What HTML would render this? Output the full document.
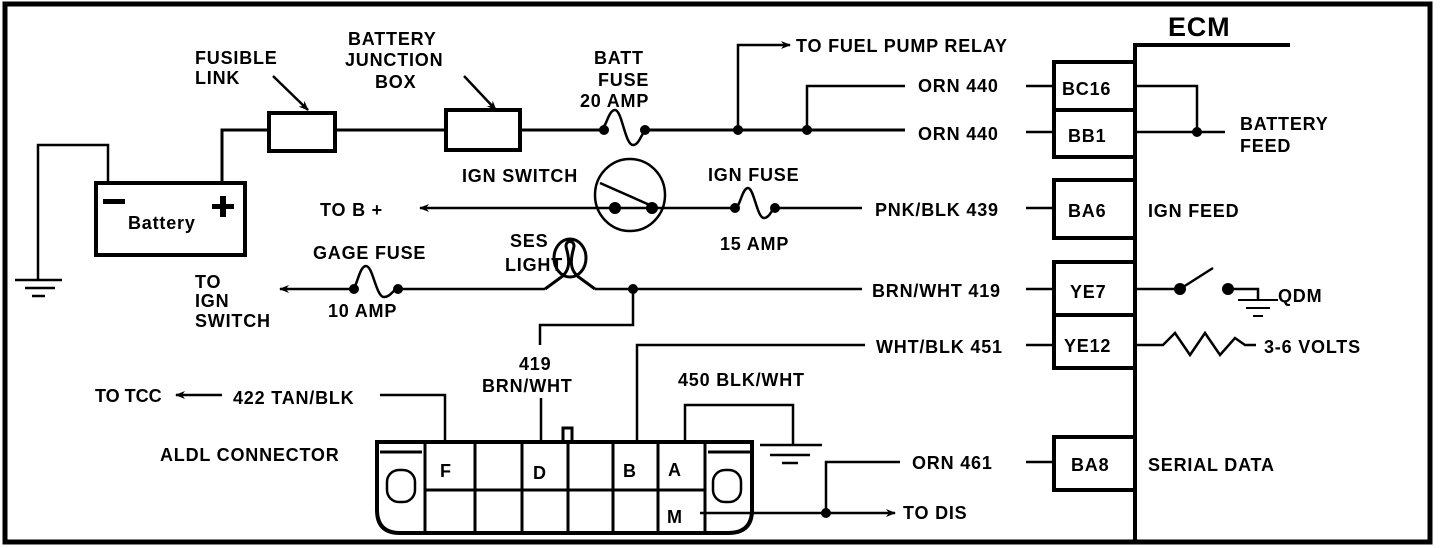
<!DOCTYPE html>
<html><head><meta charset="utf-8"><style>
html,body{margin:0;padding:0;background:#fff;}
svg{display:block;}
text{font-family:"Liberation Sans",sans-serif;font-weight:bold;font-size:18px;letter-spacing:0.8px;fill:#000;}
</style></head><body>
<svg width="1456" height="548" viewBox="0 0 1456 548" xmlns="http://www.w3.org/2000/svg">
<defs><marker id="ar" markerWidth="10" markerHeight="8" refX="9" refY="4" orient="auto" markerUnits="userSpaceOnUse"><path d="M0,0 L10,4 L0,8 L3,4 Z" fill="#000"/></marker></defs>
<g fill="none" stroke="#000" stroke-width="2.5">
<rect x="5" y="4" width="1425" height="538" stroke-width="5"/>
<path d="M1135,542 V45 H1290" stroke-width="4"/>
<g stroke-width="4">
<path d="M1134,62 H1054 V157 H1134 M1054,110 H1134"/>
<path d="M1134,180 H1054 V238 H1134"/>
<path d="M1134,262 H1054 V368 H1134 M1054,315 H1134"/>
<path d="M1134,437 H1054 V490 H1134"/>
</g>
<path d="M1026,86 H1054 M1026,132 H1054 M1026,208 H1054 M1026,289 H1054 M1026,345 H1054 M1026,462 H1054"/>
<path d="M1135,86 H1197 V132 M1135,132 H1225"/>
<path d="M222,183 V130 H268 M335,130 H445 M520,130 H600 M647,130 H905" stroke-width="3"/>
<path d="M600,130 C606,130 608,110 615,110 C622,110 625,145 633,145 C640,145 642,130 647,130"/>
<path d="M738,130 V45 H790" marker-end="url(#ar)"/>
<path d="M807,130 V86 H905"/>
<rect x="269" y="113" width="66" height="38" stroke-width="4"/>
<rect x="446" y="110" width="74" height="40" stroke-width="4"/>
<path d="M273,76 L308,110" marker-end="url(#ar)"/>
<path d="M464,76 L496,110" marker-end="url(#ar)"/>
<rect x="96" y="183" width="149" height="72" stroke-width="4"/>
<path d="M108,183 V145 H38 V280"/>
<path d="M15,280 H62 M25,288 H55 M32,296 H45"/>
<path d="M655,208 H735 M775,208 H862" />
<path d="M655,208 H420" marker-end="url(#ar)"/>
<ellipse cx="630" cy="195" rx="35" ry="36"/>
<path d="M600,183 L652,206"/>
<path d="M735,208 C740,208 742,188 748,188 C754,188 757,218 764,218 C770,218 772,208 775,208"/>
<path d="M398,289 H545 M595,289 H862"/>
<path d="M352,289 H280" marker-end="url(#ar)"/>
<path d="M352,289 C357,289 359,266 366,266 C373,266 376,297 384,297 C391,297 393,289 398,289"/>
<path d="M545,289 L560,278 C575,268 566,250 566,246 C566,240 574,240 574,246 C574,250 565,268 580,278 L595,289" stroke-width="3"/>
<ellipse cx="570" cy="258" rx="16" ry="19" stroke-width="3"/>
<path d="M633,289 V325 H540 V345 M541,398 V440"/>
<path d="M865,345 H637 V440"/>
<path d="M1135,289 H1180 M1180,289 L1213,268 M1228,289 H1258 V300"/>
<path d="M1238,300 H1278 M1246,308 H1270 M1253,316 H1263" stroke-width="2"/>
<path d="M1135,345 H1163 L1175,333 L1190,355 L1205,333 L1220,355 L1235,338 L1245,345 H1256"/>
<path d="M380,395 H445 V442"/>
<path d="M222,395 H176" marker-end="url(#ar)"/>
<path d="M685,442 V405 H793 V445 M760,445 H822 M770,455 H810 M782,463 H798"/>
<path d="M700,513 H826 M826,513 V462 H900"/>
<path d="M826,513 H895" marker-end="url(#ar)"/>
<path d="M377,442 H752 V510 Q752,533 728,533 H400 Q377,533 377,510 Z" stroke-width="4"/>
<path d="M425,442 V533 M475,442 V533 M522,442 V533 M568,442 V533 M613,442 V533 M658,442 V533 M705,442 V533 M425,490 H705" stroke-width="3"/>
<path d="M380,452 H422 M708,452 H750" stroke-width="3"/>
<path d="M563,442 V428 H572 V442" stroke-width="3"/>
<rect x="387" y="470" width="28" height="32" rx="12"/>
<rect x="713" y="470" width="28" height="32" rx="12"/>
</g>
<g fill="#000">
<circle cx="604" cy="130" r="5"/><circle cx="645" cy="130" r="5"/>
<circle cx="738" cy="130" r="5"/><circle cx="807" cy="130" r="5"/>
<circle cx="1197" cy="132" r="5"/>
<circle cx="615" cy="208" r="6"/><circle cx="652" cy="208" r="6"/>
<circle cx="735" cy="208" r="5"/><circle cx="775" cy="208" r="5"/>
<circle cx="354" cy="289" r="5"/><circle cx="398" cy="289" r="5"/>
<circle cx="633" cy="289" r="5"/>
<circle cx="1180" cy="289" r="6"/><circle cx="1228" cy="289" r="6"/>
<circle cx="826" cy="513" r="5"/>
<path d="M103,199 H125 V204 H103 Z M212,204 H234 V209 H212 Z M220,196 H226 V217 H220 Z"/>
</g>
<text x="1168" y="36" style="font-size:27px">ECM</text>
<text x="195" y="64">FUSIBLE</text><text x="195" y="84">LINK</text>
<text x="348" y="45">BATTERY</text><text x="345" y="66">JUNCTION</text><text x="375" y="88">BOX</text>
<text x="594" y="64">BATT</text><text x="598" y="86">FUSE</text><text x="580" y="107">20 AMP</text>
<text x="796" y="52">TO FUEL PUMP RELAY</text>
<text x="918" y="92">ORN 440</text><text x="918" y="140">ORN 440</text>
<text x="1062" y="95">BC16</text><text x="1068" y="142">BB1</text>
<text x="1240" y="130">BATTERY</text><text x="1240" y="152">FEED</text>
<text x="128" y="229">Battery</text>
<text x="462" y="182">IGN SWITCH</text>
<text x="320" y="216">TO B +</text>
<text x="708" y="181">IGN FUSE</text><text x="720" y="250">15 AMP</text>
<text x="875" y="216">PNK/BLK  439</text>
<text x="1068" y="217">BA6</text><text x="1148" y="217">IGN FEED</text>
<text x="313" y="259">GAGE FUSE</text><text x="328" y="317">10 AMP</text>
<text x="195" y="288">TO</text><text x="195" y="307">IGN</text><text x="195" y="327">SWITCH</text>
<text x="510" y="247">SES</text><text x="505" y="271">LIGHT</text>
<text x="872" y="297">BRN/WHT 419</text>
<text x="1070" y="298">YE7</text><text x="1278" y="302">QDM</text>
<text x="876" y="353">WHT/BLK 451</text>
<text x="1064" y="352">YE12</text><text x="1264" y="353">3-6 VOLTS</text>
<text x="519" y="370">419</text><text x="482" y="392">BRN/WHT</text>
<text x="678" y="386">450 BLK/WHT</text>
<text x="95" y="402" style="letter-spacing:0">TO TCC</text><text x="233" y="404">422 TAN/BLK</text>
<text x="160" y="461">ALDL CONNECTOR</text>
<text x="912" y="469">ORN 461</text>
<text x="1071" y="471">BA8</text><text x="1148" y="471">SERIAL DATA</text>
<text x="903" y="519">TO DIS</text>
<text x="440" y="477">F</text><text x="533" y="479">D</text><text x="623" y="477">B</text><text x="668" y="476">A</text><text x="667" y="523">M</text>
</svg>
</body></html>
